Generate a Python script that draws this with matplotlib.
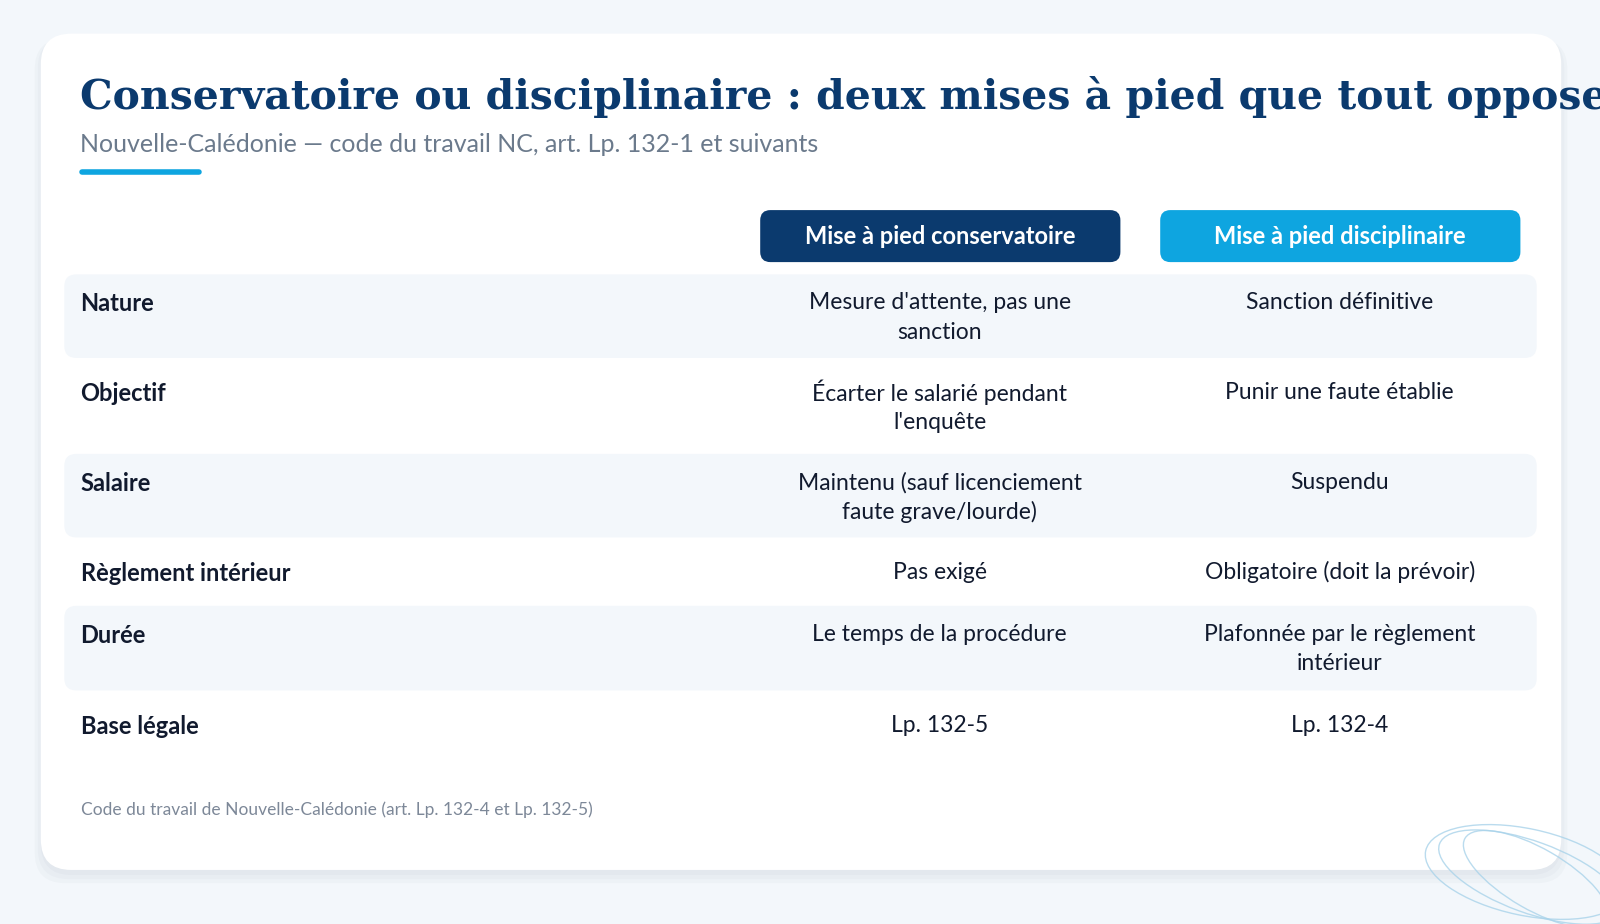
import matplotlib
matplotlib.use("Agg")
import matplotlib.pyplot as plt
from matplotlib.patches import FancyBboxPatch, Ellipse

title = "Conservatoire ou disciplinaire : deux mises à pied que tout oppose"
subtitle = "Nouvelle-Calédonie — code du travail NC, art. Lp. 132-1 et suivants"
headers = ["Mise à pied conservatoire", "Mise à pied disciplinaire"]
row_labels = ["Nature", "Objectif", "Salaire", "Règlement intérieur", "Durée", "Base légale"]
col_conservatoire = ["Mesure d'attente, pas une\nsanction", "Écarter le salarié pendant\nl'enquête",
                     "Maintenu (sauf licenciement\nfaute grave/lourde)", "Pas exigé",
                     "Le temps de la procédure", "Lp. 132-5"]
col_disciplinaire = ["Sanction définitive", "Punir une faute établie", "Suspendu",
                     "Obligatoire (doit la prévoir)", "Plafonnée par le règlement\nintérieur", "Lp. 132-4"]
source = "Code du travail de Nouvelle-Calédonie (art. Lp. 132-4 et Lp. 132-5)"

NAVY = "#0b3a6e"; CYAN = "#0ea5e0"; BG = "#f3f7fb"; INK = "#111a2e"; GREY = "#6b7a8c"
FONT = ["Lato", "DejaVu Sans"]

fig = plt.figure(figsize=(16, 9.24), dpi=100)
fig.patch.set_facecolor(BG)
ax = fig.add_axes([0, 0, 1, 1])
ax.set_xlim(0, 1568); ax.set_ylim(906, 0); ax.axis("off")

for i, a in enumerate([0.025, 0.025, 0.025]):
    ax.add_patch(FancyBboxPatch((40 - 3*i, 36 + i), 1490 + 6*i, 822 + 3*i,
                                boxstyle="round,pad=0,rounding_size=30", fc="#1a3050", ec="none", alpha=a))
ax.add_patch(FancyBboxPatch((40, 33), 1490, 820, boxstyle="round,pad=0,rounding_size=30",
                            fc="white", ec="none"))

ax.text(78, 95, title, fontsize=29.5, fontweight="bold", family=["DejaVu Serif"],
        color=NAVY, va="center", ha="left")
ax.text(78, 142, subtitle, fontsize=18, family=FONT, color=GREY, va="center")
ax.plot([80, 195], [169, 169], color=CYAN, lw=4, solid_capstyle="round")

for x0, txt, c in [(745, headers[0], NAVY), (1137, headers[1], CYAN)]:
    ax.add_patch(FancyBboxPatch((x0, 206), 353, 51, boxstyle="round,pad=0,rounding_size=10", fc=c, ec="none"))
    ax.text(x0 + 176, 232, txt, fontsize=17, fontweight="bold", family=FONT, color="white",
            ha="center", va="center")

tops = [269, 357, 445, 533, 594, 683]
heights = [82, 82, 82, 55, 83, 57]
for i, lab in enumerate(row_labels):
    t = tops[i]
    if i % 2 == 0:
        ax.add_patch(FancyBboxPatch((63, t), 1443, heights[i], boxstyle="round,pad=0,rounding_size=12",
                                    fc=BG, ec="none"))
    ax.text(79, t + 29, lab, fontsize=17, fontweight="bold", family=FONT, color=INK, va="center")
    for cx, txt in [(921, col_conservatoire[i]), (1313, col_disciplinaire[i])]:
        for j, line in enumerate(txt.split("\n")):
            ax.text(cx, t + 28 + 29 * j, line, fontsize=16.5, family=FONT, color=INK, ha="center", va="center")

ax.text(79, 794, source, fontsize=12.5, family=FONT, color="#7d8898", va="center")

for (cx, cy, w, h, ang) in [(1500, 860, 190, 70, 20), (1505, 862, 160, 60, 30), (1495, 855, 200, 85, 12)]:
    ax.add_patch(Ellipse((cx, cy), w, h, angle=ang, fill=False, ec="#a9d3ea", lw=1, alpha=0.8))

fig.savefig("out.png", dpi=100, facecolor=BG)
